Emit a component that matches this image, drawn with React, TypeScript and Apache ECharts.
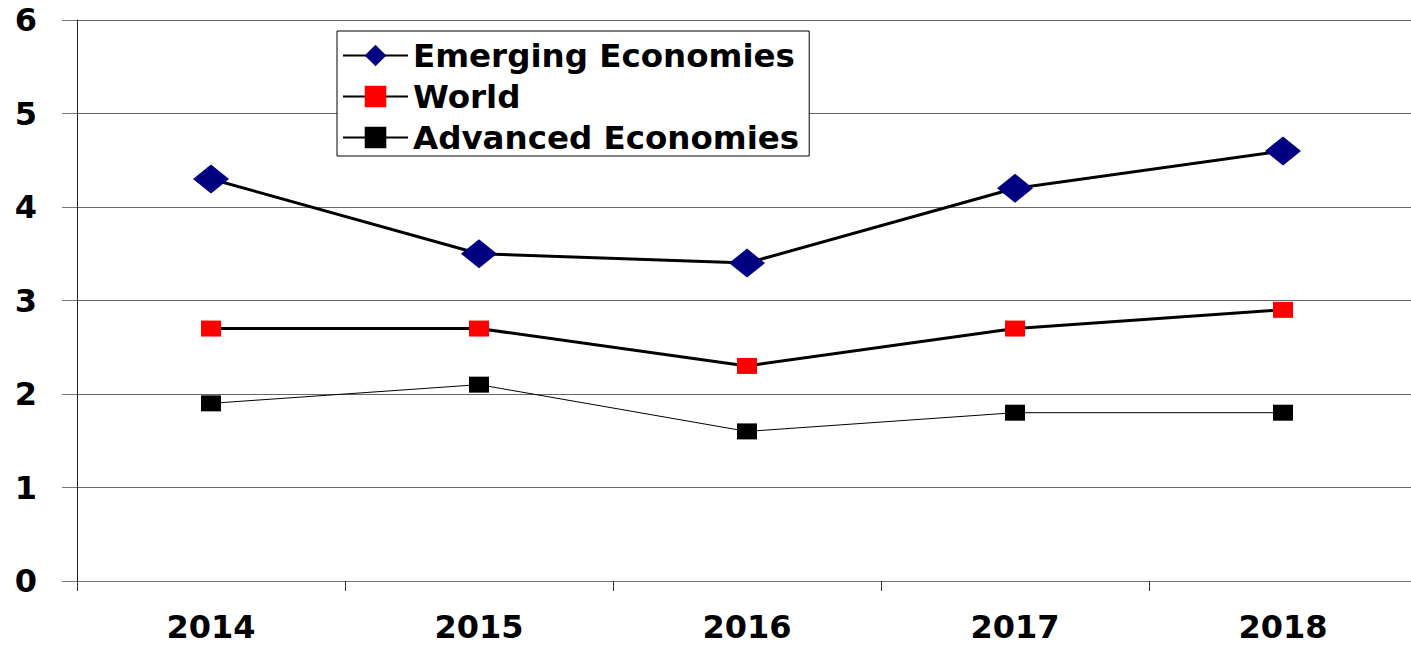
import React, { useEffect, useRef } from "react";
import * as echarts from "echarts";

const years = ["2014", "2015", "2016", "2017", "2018"];
const emerging = [4.3, 3.5, 3.4, 4.2, 4.6];
const world = [2.7, 2.7, 2.3, 2.7, 2.9];
const advanced = [1.9, 2.1, 1.6, 1.8, 1.8];

const FONT = "DejaVu Sans";

export default function App() {
  const ref = useRef<HTMLDivElement>(null);
  useEffect(() => {
    document.body.style.margin = "0";
    const chart = echarts.init(ref.current!, null, { renderer: "svg" });
    chart.setOption({
      animation: false,
      backgroundColor: "#fff",
      grid: { left: 77, right: 0, top: 20, bottom: 69, containLabel: false },
      legend: {
        orient: "vertical",
        left: 337,
        top: 31,
        backgroundColor: "#fff",
        borderColor: "#000",
        borderWidth: 1,
        padding: [8, 10, 2, 5],
        itemWidth: 65,
        itemHeight: 27,
        itemGap: 8,
        textStyle: { fontFamily: FONT, fontWeight: "bold", fontSize: 32.5, color: "#000" },
        data: ["Emerging Economies", "World", "Advanced Economies"],
      },
      xAxis: {
        type: "category",
        data: years,
        boundaryGap: true,
        axisLine: { lineStyle: { color: "#777", width: 1 } },
        axisTick: { show: true, length: 10, lineStyle: { color: "#333" } },
        axisLabel: { fontFamily: FONT, fontWeight: "bold", fontSize: 32, color: "#000", margin: 30 },
        splitLine: { show: false },
      },
      yAxis: {
        type: "value",
        min: 0,
        max: 6,
        interval: 1,
        axisLine: { show: true, lineStyle: { color: "#222", width: 1 } },
        axisTick: { show: true, length: 15, lineStyle: { color: "#777" } },
        axisLabel: { fontFamily: FONT, fontWeight: "bold", fontSize: 32, color: "#000", margin: 40 },
        splitLine: { show: true, lineStyle: { color: "#666", width: 1 } },
      },
      series: [
        {
          name: "Emerging Economies",
          type: "line",
          data: emerging,
          symbol: "diamond",
          symbolSize: [36, 29],
          itemStyle: { color: "#000080" },
          lineStyle: { color: "#000", width: 3 },
        },
        {
          name: "World",
          type: "line",
          data: world,
          symbol: "rect",
          symbolSize: [20, 16],
          itemStyle: { color: "#ff0000" },
          lineStyle: { color: "#000", width: 3 },
        },
        {
          name: "Advanced Economies",
          type: "line",
          data: advanced,
          symbol: "rect",
          symbolSize: [20, 16],
          itemStyle: { color: "#000" },
          lineStyle: { color: "#000", width: 1 },
        },
      ],
    });
    return () => chart.dispose();
  }, []);
  return (
    <div style={{ width: 1411, height: 650, overflow: "hidden" }}>
      <div ref={ref} style={{ width: 1417, height: 650 }} />
    </div>
  );
}
